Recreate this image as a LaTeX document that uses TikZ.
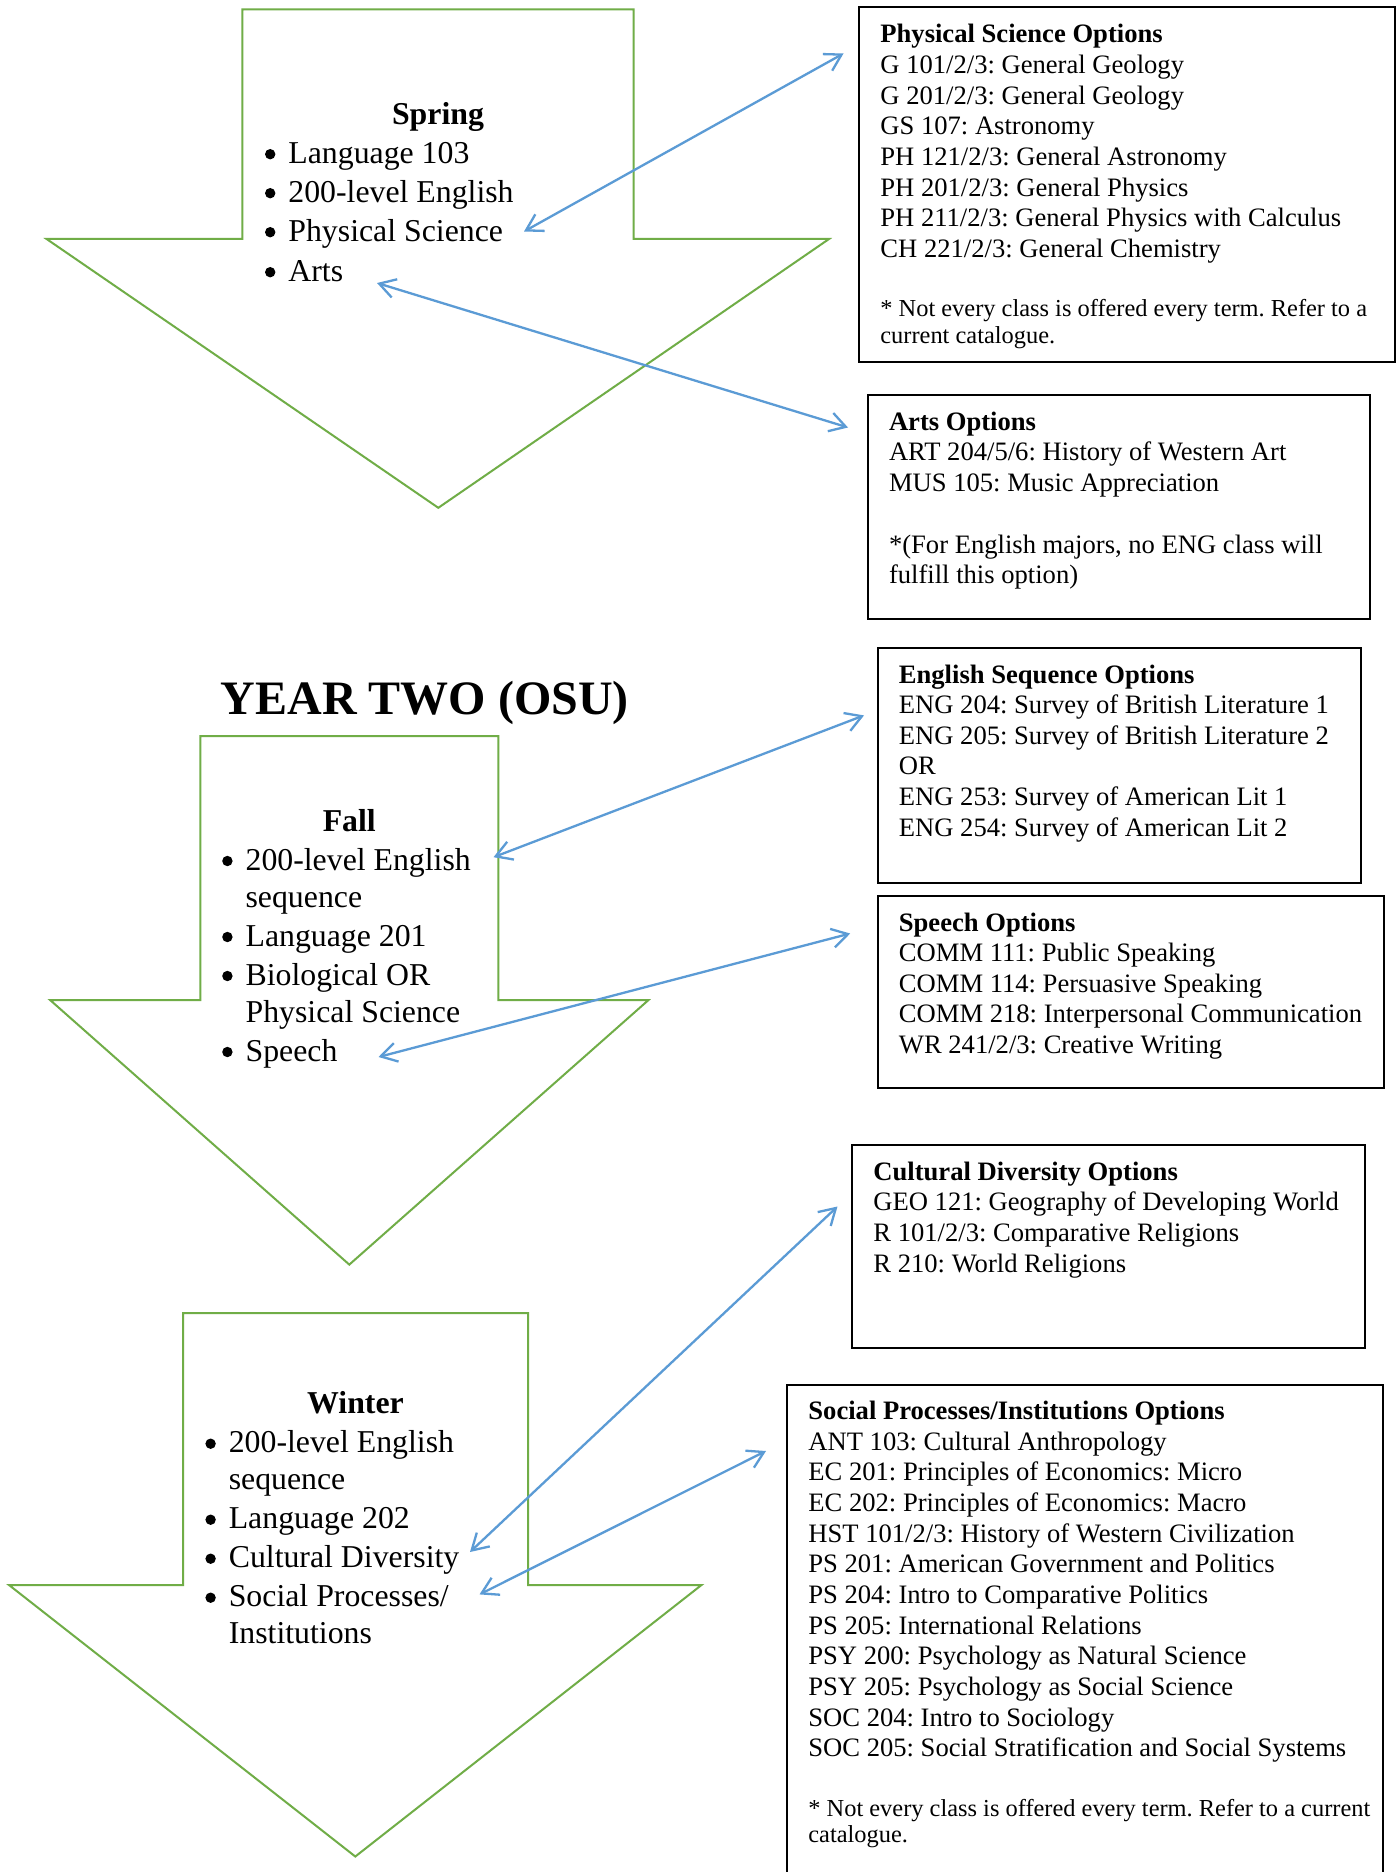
\documentclass[tikz,border=0pt]{standalone}
\usepackage{fontspec}
\setmainfont{Liberation Serif}
\usetikzlibrary{arrows.meta}
\definecolor{termgreen}{HTML}{70AD47}
\definecolor{linkblue}{HTML}{5B9BD5}
\newcommand\stacklines[1]{\begin{tabular}[t]{@{}l@{}}#1\end{tabular}}
\newcommand\bulletlist[1]{\begin{tabular}[t]{@{}l@{}l@{}}#1\end{tabular}}
\newcommand\itm{\makebox[11.7pt][l]{\tikz[baseline=0pt]\fill[black] (2.6pt,4.5pt) circle[radius=2.6pt];}}
\begin{document}
\frenchspacing
\begin{tikzpicture}[x=0.5pt,y=-0.5pt,
  termarrow/.style={draw=termgreen,line width=1pt,line join=miter},
  optbox/.style={draw=black,line width=1pt},
  link/.style={draw=linkblue,line width=1.15pt,
    {Straight Barb[length=8pt,width=9.5pt]}-{Straight Barb[length=8pt,width=9.5pt]}},
  boxtext/.style={anchor=base west,inner sep=0pt,font=\fontsize{13.3}{15.33}\selectfont},
  notetext/.style={anchor=base west,inner sep=0pt,font=\fontsize{12.2}{13.45}\selectfont},
  termtitle/.style={anchor=base,inner sep=0pt,font=\fontsize{15.9}{18.5}\selectfont\bfseries},
  termlist/.style={anchor=base west,inner sep=0pt,font=\fontsize{15.9}{18.5}\selectfont},
  yeartitle/.style={anchor=base west,inner sep=0pt,font=\fontsize{24}{28}\selectfont\bfseries},
]
\path[use as bounding box,fill=white] (0,0) rectangle (1396,1872);

% ---------- green term arrows ----------
\draw[termarrow] (242.4,9.5) -- (633.5,9.5) -- (633.5,239) -- (829,239) -- (438.3,507.8)
  -- (46.6,239) -- (242.4,239) -- cycle;
\draw[termarrow] (200.3,736) -- (498.3,736) -- (498.3,1000.2) -- (648.3,1000.2) -- (349.3,1264.6)
  -- (50.3,1000.2) -- (200.3,1000.2) -- cycle;
\draw[termarrow] (183,1313) -- (528,1313) -- (528,1585) -- (701.5,1585) -- (355.3,1856.5)
  -- (9,1585) -- (183,1585) -- cycle;

% ---------- Spring ----------
\node[termtitle] (springT) at (438,124.2) {Spring};
\node[termlist] (springL) at (264.6,163.2) {\bulletlist{%
  \itm & Language 103\\[1pt]
  \itm & 200-level English\\[1pt]
  \itm & Physical Science\\[1.5pt]
  \itm & Arts}};

% ---------- Year title ----------
\node[yeartitle] (year) at (220.5,714.7) {YEAR TWO (OSU)};

% ---------- Fall ----------
\node[termtitle] (fallT) at (349.3,831) {Fall};
\node[termlist] (fallL) at (221.8,870) {\bulletlist{%
  \itm & 200-level English\\
       & sequence\\[1pt]
  \itm & Language 201\\[1pt]
  \itm & Biological OR\\
       & Physical Science\\[1pt]
  \itm & Speech}};

% ---------- Winter ----------
\node[termtitle] (winterT) at (355.5,1413.7) {Winter};
\node[termlist] (winterL) at (205,1452.7) {\bulletlist{%
  \itm & 200-level English\\
       & sequence\\[1pt]
  \itm & Language 202\\[1pt]
  \itm & Cultural Diversity\\[1pt]
  \itm & Social Processes/\\
       & Institutions}};

% ---------- option boxes ----------
\draw[optbox] (858.5,7.5) rectangle (1395,362);
\node[boxtext] (psText) at (880,43) {\stacklines{%
  \textbf{Physical Science Options}\\
  G 101/2/3: General Geology\\
  G 201/2/3: General Geology\\
  GS 107: Astronomy\\
  PH 121/2/3: General Astronomy\\
  PH 201/2/3: General Physics\\
  PH 211/2/3: General Physics with Calculus\\
  CH 221/2/3: General Chemistry}};
\node[notetext] (psNote) at (880,317) {\stacklines{%
  * Not every class is offered every term. Refer to a\\
  current catalogue.}};

\draw[optbox] (868,395) rectangle (1369.5,619);
\node[boxtext] (artsText) at (888.6,430) {\stacklines{%
  \textbf{Arts Options}\\
  ART 204/5/6: History of Western Art\\
  MUS 105: Music Appreciation}};
\node[boxtext] (artsNote) at (888.6,553) {\stacklines{%
  *(For English majors, no ENG class will\\
  fulfill this option)}};

\draw[optbox] (878,647.5) rectangle (1361.3,882.7);
\node[boxtext] (engText) at (898.5,683) {\stacklines{%
  \textbf{English Sequence Options}\\
  ENG 204: Survey of British Literature 1\\
  ENG 205: Survey of British Literature 2\\
  OR\\
  ENG 253: Survey of American Lit 1\\
  ENG 254: Survey of American Lit 2}};

\draw[optbox] (878,895.7) rectangle (1383.6,1087.7);
\node[boxtext] (speechText) at (898.5,931) {\stacklines{%
  \textbf{Speech Options}\\
  COMM 111: Public Speaking\\
  COMM 114: Persuasive Speaking\\
  COMM 218: Interpersonal Communication\\
  WR 241/2/3: Creative Writing}};

\draw[optbox] (851.8,1144.7) rectangle (1364.8,1348.3);
\node[boxtext] (cultText) at (873,1180.3) {\stacklines{%
  \textbf{Cultural Diversity Options}\\
  GEO 121: Geography of Developing World\\
  R 101/2/3: Comparative Religions\\
  R 210: World Religions}};

\draw[optbox] (786.8,1900) -- (786.8,1385) -- (1383.3,1385) -- (1383.3,1900);
\node[boxtext] (socText) at (808,1419.5) {\stacklines{%
  \textbf{Social Processes/Institutions Options}\\
  ANT 103: Cultural Anthropology\\
  EC 201: Principles of Economics: Micro\\
  EC 202: Principles of Economics: Macro\\
  HST 101/2/3: History of Western Civilization\\
  PS 201: American Government and Politics\\
  PS 204: Intro to Comparative Politics\\
  PS 205: International Relations\\
  PSY 200: Psychology as Natural Science\\
  PSY 205: Psychology as Social Science\\
  SOC 204: Intro to Sociology\\
  SOC 205: Social Stratification and Social Systems}};
\node[notetext] (socNote) at (808,1816) {\stacklines{%
  * Not every class is offered every term. Refer to a current\\
  catalogue.}};

% ---------- connector end points ----------
\coordinate (sprPhys) at (524,231.5);
\coordinate (psIn)    at (843.5,53.5);
\coordinate (sprArts) at (377,283);
\coordinate (artsIn)  at (848,427.5);
\coordinate (fallEng) at (493.5,857.2);
\coordinate (engIn)   at (864,715.4);
\coordinate (fallSp)  at (378.5,1057);
\coordinate (spIn)    at (850.2,933.5);
\coordinate (winCult) at (470,1552);
\coordinate (cultIn)  at (837.5,1206.5);
\coordinate (winSoc)  at (479.5,1594.4);
\coordinate (socIn)   at (766,1451);

% ---------- blue connectors ----------
\draw[link] (sprPhys) -- (psIn);
\draw[link] (sprArts) -- (artsIn);
\draw[link] (fallEng) -- (engIn);
\draw[link] (fallSp) -- (spIn);
\draw[link] (winCult) -- (cultIn);
\draw[link] (winSoc) -- (socIn);
\end{tikzpicture}
\end{document}
